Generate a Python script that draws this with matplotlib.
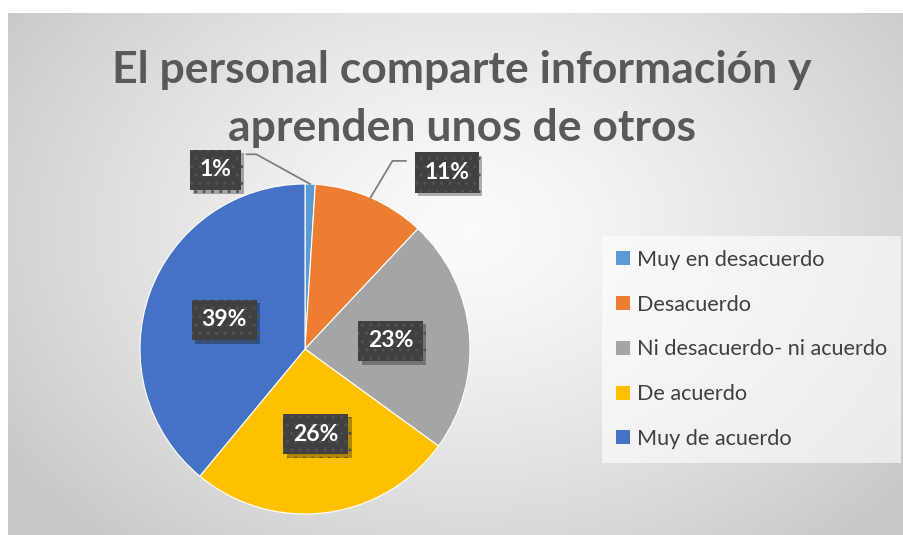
import numpy as np
import matplotlib
matplotlib.use("Agg")
import matplotlib.pyplot as plt
from matplotlib.patches import Rectangle
import matplotlib.patheffects as pe

categories = ["Muy en desacuerdo", "Desacuerdo", "Ni desacuerdo- ni acuerdo",
              "De acuerdo", "Muy de acuerdo"]
values = [1, 11, 23, 26, 39]
colors = ["#5B9BD5", "#ED7D31", "#A5A5A5", "#FFC000", "#4472C4"]
title = "El personal comparte información y\naprenden unos de otros"

W, H = 904, 535
fig = plt.figure(figsize=(W / 100, H / 100), dpi=100)
fig.patch.set_facecolor("white")

# background radial gradient (chart area)
x0, y0 = 8, 13
bg = fig.add_axes([x0 / W, 0, 1 - x0 / W, 1 - y0 / H])
bg.set_axis_off()
gx = np.linspace(0, W - x0, 400)
gy = np.linspace(0, H - y0, 240)
GX, GY = np.meshgrid(gx, gy)
cx, cy = 470 - x0, 230 - y0
d = np.sqrt(((GX - cx) / 560) ** 2 + ((GY - cy) / 420) ** 2)
d = np.clip(d, 0, 1)
val = 0.985 - 0.20 * d ** 1.3
img = np.dstack([val, val, val])
bg.imshow(img, extent=[0, 1, 0, 1], aspect="auto", origin="upper")
bg.set_xlim(0, 1)
bg.set_ylim(0, 1)

# pie axes covering whole figure; data unit = pie radius
pcx, pcy, R = 305, 349, 165
ax = fig.add_axes([0, 0, 1, 1])
ax.set_axis_off()
ax.patch.set_alpha(0)

wedges, _ = ax.pie(values, colors=colors, startangle=90, counterclock=False,
                   radius=1.0, center=(0, 0),
                   wedgeprops=dict(edgecolor="white", linewidth=0.8))
ax.set_xlim(-pcx / R, (W - pcx) / R)
ax.set_ylim((pcy - H) / R, pcy / R)
ax.set_aspect("equal")

box = dict(boxstyle="square,pad=0.42", facecolor="#404040", edgecolor="#525252",
           linewidth=0, hatch="..")
total = sum(values)
cum = np.cumsum([0] + values)
mids = [(cum[i] + values[i] / 2) / total for i in range(len(values))]

outer_pos = {0: (-0.545, 1.085), 1: (0.86, 1.07)}
for i, v in enumerate(values):
    ang = np.deg2rad(90 - 360 * mids[i])
    lbl = f"{v}%"
    if i in outer_pos:
        tx, ty = outer_pos[i]
        ex, ey = np.cos(ang), np.sin(ang)
        if tx < ex:
            sx = tx + 0.19
            ax.plot([sx, sx + 0.06, ex], [ty + 0.095, ty + 0.095, ey],
                    color="#7f7f7f", lw=1.3, zorder=3)
        else:
            sx = tx - 0.25
            ax.plot([sx, sx - 0.08, ex], [ty + 0.07, ty + 0.07, ey],
                    color="#7f7f7f", lw=1.3, zorder=3)
    else:
        tx, ty = 0.52 * np.cos(ang), 0.52 * np.sin(ang)
    t = ax.text(tx, ty, lbl, ha="center", va="center", color="white",
                fontsize=16.5, fontweight="bold", family="Lato", bbox=box,
                zorder=5)
    t.get_bbox_patch().set_path_effects(
        [pe.SimplePatchShadow(offset=(2.5, -2.5), shadow_rgbFace="black", alpha=0.3),
         pe.Normal()])

fig.text(462 / W, 1 - 99 / H, title, ha="center", va="center",
         fontsize=32, fontweight="bold", color="#595959", family="Lato",
         linespacing=1.55)

handles = [Rectangle((0, 0), 1, 1, facecolor=c) for c in colors]
leg = fig.legend(handles, categories, loc="upper left",
                 bbox_to_anchor=(602 / W, 1 - 236 / H),
                 frameon=True, fancybox=False, fontsize=15.6,
                 labelspacing=1.14, handlelength=0.62, handleheight=0.62,
                 handletextpad=0.35, borderpad=0.65, borderaxespad=0)
leg.get_frame().set_facecolor("white")
leg.get_frame().set_alpha(0.6)
leg.get_frame().set_linewidth(0)
for t in leg.get_texts():
    t.set_color("#404040")
    t.set_family("Lato")

fig.savefig("out.png", dpi=100)
